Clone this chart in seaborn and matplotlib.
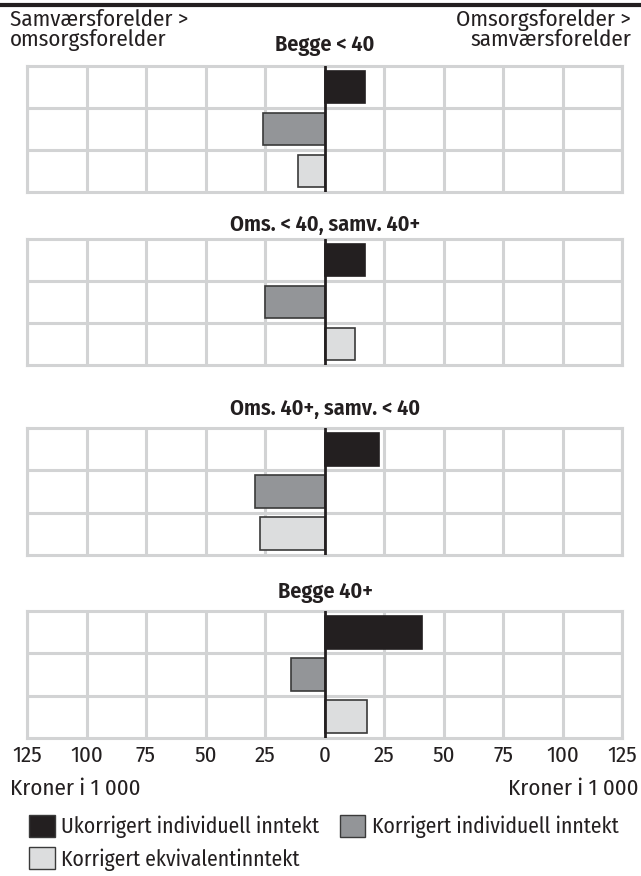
import matplotlib
matplotlib.use("Agg")
import matplotlib.pyplot as plt
import matplotlib.patches as mpatches
import seaborn as sns
import pandas as pd

panels = ["Begge < 40", "Oms. < 40, samv. 40+", "Oms. 40+, samv. < 40", "Begge 40+"]
series = ["Ukorrigert individuell inntekt", "Korrigert individuell inntekt", "Korrigert ekvivalentinntekt"]
values = {
    "Begge < 40": [17, -26, -11],
    "Oms. < 40, samv. 40+": [17, -25, 13],
    "Oms. 40+, samv. < 40": [23, -29, -27],
    "Begge 40+": [41, -14, 18],
}
ticks = [-125, -100, -75, -50, -25, 0, 25, 50, 75, 100, 125]
tick_labels = ["125", "100", "75", "50", "25", "0", "25", "50", "75", "100", "125"]
colors = ["#231f20", "#939598", "#dcddde"]
edges = ["#231f20", "#3a3a3a", "#3a3a3a"]

sns.set_theme(style="white")
plt.rcParams["font.family"] = ["Fira Sans Condensed", "DejaVu Sans"]
plt.rcParams["font.weight"] = "normal"
TXT = "#231f20"

W, H = 641, 876
fig = plt.figure(figsize=(W / 100, H / 100), dpi=100)

def ax_rect(x0, y0, x1, y1):
    return [x0 / W, 1 - y1 / H, (x1 - x0) / W, (y1 - y0) / H]

panel_y = [(66, 192), (239, 365), (428, 555), (611, 738)]
title_y = [45, 225, 409, 592]
grid_c = "#d2d3d4"
FS = 16.5
LFS = 15.6

for i, (p, (y0, y1)) in enumerate(zip(panels, panel_y)):
    ax = fig.add_axes(ax_rect(27, y0, 622, y1))
    df = pd.DataFrame({"series": series, "value": values[p]})
    sns.barplot(data=df, x="value", y="series", hue="series", palette=colors,
                orient="h", width=0.78, legend=False, ax=ax, saturation=1)
    for patch, ec in zip(ax.patches, edges):
        patch.set_edgecolor(ec)
        patch.set_linewidth(1.2)
    ax.set_xlim(-125, 125)
    ax.set_ylim(2.5, -0.5)
    for t in ticks:
        if t != 0:
            ax.axvline(t, color=grid_c, lw=2.2, zorder=0)
    for yy in [0.5, 1.5]:
        ax.axhline(yy, color=grid_c, lw=2.2, zorder=0)
    ax.axvline(0, color=TXT, lw=2, zorder=5)
    for s in ax.spines.values():
        s.set_color(grid_c)
        s.set_linewidth(2.2)
    ax.set_ylabel("")
    ax.set_xlabel("")
    ax.set_yticks([])
    ax.set_xticks(ticks)
    if i == 3:
        ax.set_xticklabels(tick_labels, fontsize=FS, color=TXT)
        ax.tick_params(axis="x", length=0, pad=5)
    else:
        ax.set_xticklabels([])
        ax.tick_params(axis="x", length=0)
    fig.text(325 / W, 1 - title_y[i] / H, p, ha="center", va="center",
             fontsize=16, fontweight="semibold", color=TXT)

# top rule
fig.add_artist(plt.Line2D([0, 1], [1 - 5 / H, 1 - 5 / H], color=TXT, lw=3))

fig.text(10 / W, 1 - 30 / H, "Samværsforelder >\nomsorgsforelder", ha="left", va="center",
         fontsize=FS, color=TXT, linespacing=0.88)
fig.text(631 / W, 1 - 30 / H, "Omsorgsforelder >\nsamværsforelder", ha="right", va="center",
         fontsize=FS, color=TXT, linespacing=0.88, multialignment="right")

fig.text(10 / W, 1 - 789 / H, "Kroner i 1 000", ha="left", va="center", fontsize=FS, color=TXT)
fig.text(638 / W, 1 - 789 / H, "Kroner i 1 000", ha="right", va="center", fontsize=FS, color=TXT)

handles = [mpatches.Patch(facecolor=c, edgecolor="#3a3a3a", lw=1) for c in colors]
order = [0, 2, 1]
leg = fig.legend([handles[k] for k in order], [series[k] for k in order], ncol=2,
                 loc="upper left", bbox_to_anchor=(29 / W, 1 - 815 / H), frameon=False,
                 prop={"size": LFS}, handlelength=1.18, handleheight=1.18,
                 handletextpad=0.3, columnspacing=0.95, labelspacing=0.42,
                 borderaxespad=0, borderpad=0)
for t in leg.get_texts():
    t.set_color(TXT)

fig.savefig("out.png", dpi=100, facecolor="white")
